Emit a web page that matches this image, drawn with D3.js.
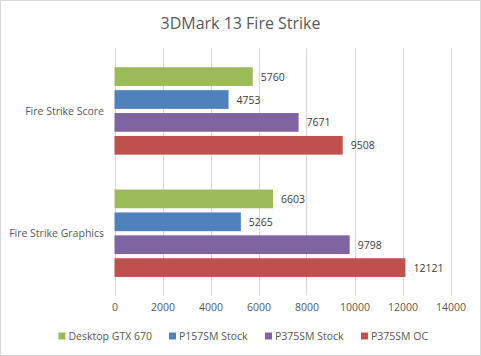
<!DOCTYPE html>
<html><head><meta charset="utf-8">
<script src="https://cdn.jsdelivr.net/npm/d3@7"></script>
<style>
html,body{margin:0;padding:0;background:#fff;}
svg{display:block;font-family:"Open Sans",sans-serif;}
</style></head>
<body><svg id="c" width="481" height="356"></svg>
<script>
const categories = ["Fire Strike Score", "Fire Strike Graphics"];
const seriesNames = ["Desktop GTX 670", "P157SM Stock", "P375SM Stock", "P375SM OC"];
const desktopGTX670 = [5760, 6603];
const p157smStock = [4753, 5265];
const p375smStock = [7671, 9798];
const p375smOC = [9508, 12121];
const xTicks = [0, 2000, 4000, 6000, 8000, 10000, 12000, 14000];
const colors = ["#9BBB59", "#4F81BD", "#8064A2", "#C0504D"];
const seriesValues = [desktopGTX670, p157smStock, p375smStock, p375smOC];

(function(){
const svg = d3.select("#c");
const W = 481, H = 356;
svg.append("rect").attr("x",0.5).attr("y",0.5).attr("width",W-1).attr("height",H-1)
  .attr("fill","#fff").attr("stroke","#d9d9d9");

const pLeft = 114.5, pRight = 450.5, pTop = 49.8, pBottom = 294.4;
const x = d3.scaleLinear().domain([0,14000]).range([pLeft,pRight]);
const y = d3.scaleBand().domain(categories).range([pTop,pBottom]);

svg.append("text").attr("x",240.5).attr("y",29).attr("text-anchor","middle")
  .attr("font-size",16).attr("fill","#595959").text("3DMark 13 Fire Strike");

svg.append("g").selectAll("line").data(xTicks).join("line")
  .attr("x1",d=>Math.round(x(d))+0.5).attr("x2",d=>Math.round(x(d))+0.5)
  .attr("y1",pTop-1.5).attr("y2",pBottom+1)
  .attr("stroke","#d9d9d9").attr("stroke-width",1);

const xAxis = d3.axisBottom(x).tickValues(xTicks).tickSize(0).tickPadding(0).tickFormat(d3.format("d"));
const gx = svg.append("g").attr("transform",`translate(0,${pBottom+17})`).call(xAxis);
gx.select(".domain").remove();
gx.selectAll("text").attr("font-size",10.5).attr("fill","#595959").attr("font-family","Open Sans").attr("dy","0");

svg.append("g").selectAll("text").data(categories).join("text")
  .attr("x",104).attr("y",d=>y(d)+y.bandwidth()/2+4)
  .attr("text-anchor","end").attr("font-size",10.5).attr("fill","#595959").text(d=>d);

const barH = 18.7, step = 22.9;
const groupSpan = step*3 + barH;
categories.forEach((cat,ci)=>{
  const c = y(cat)+y.bandwidth()/2;
  const y0 = c - groupSpan/2;
  const g = svg.append("g");
  const data = seriesValues.map((s,si)=>({si, v:s[ci]}));
  g.selectAll("rect").data(data).join("rect")
    .attr("x",x(0)).attr("y",d=>y0+d.si*step)
    .attr("width",d=>x(d.v)-x(0)).attr("height",barH)
    .attr("fill",d=>colors[d.si]);
  g.selectAll("text").data(data).join("text")
    .attr("x",d=>x(d.v)+8).attr("y",d=>y0+d.si*step+barH/2+4)
    .attr("font-size",10.5).attr("fill","#404040").text(d=>d.v);
});

const legendX = [58.5, 169, 265, 361];
const lg = svg.append("g");
seriesNames.forEach((n,i)=>{
  lg.append("rect").attr("x",legendX[i]).attr("y",332.5).attr("width",7).attr("height",7).attr("fill",colors[i]);
  lg.append("text").attr("x",legendX[i]+10).attr("y",340).attr("font-size",10.5).attr("fill","#595959").text(n);
});
})();
</script></body></html>
